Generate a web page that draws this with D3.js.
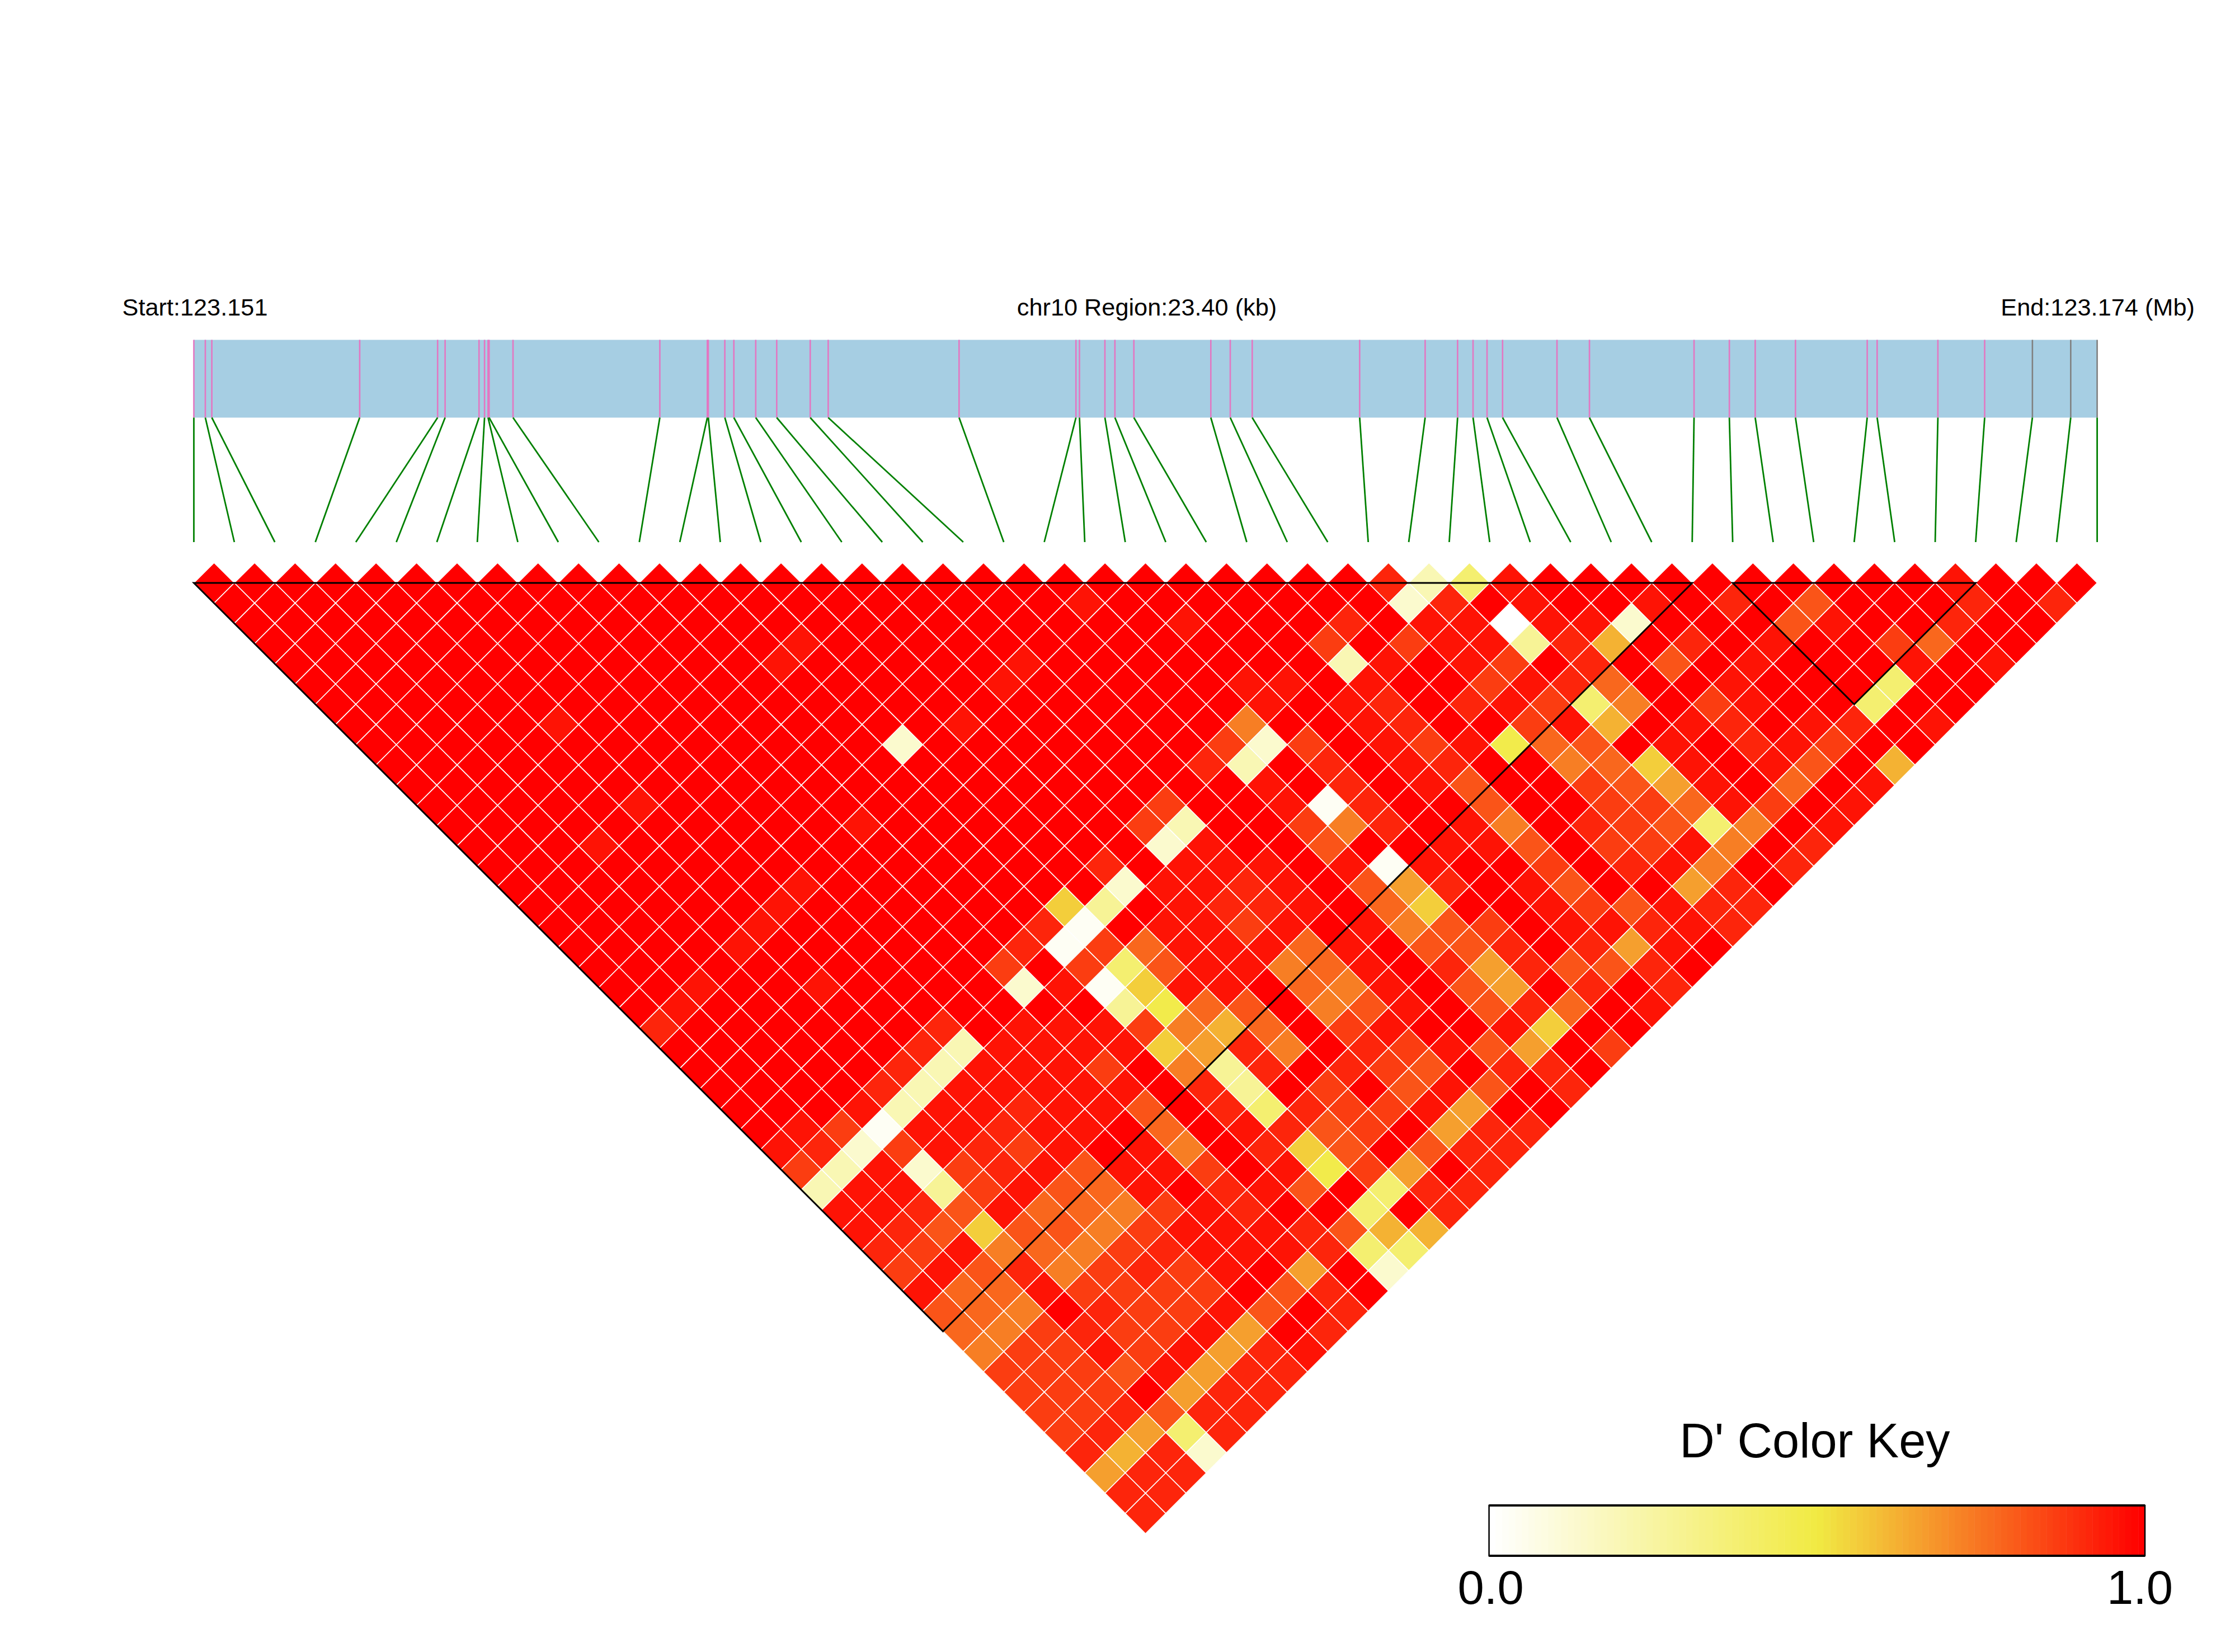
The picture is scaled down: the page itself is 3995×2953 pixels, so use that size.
<!DOCTYPE html>
<html><head><meta charset="utf-8">
<script src="https://cdn.jsdelivr.net/npm/d3@7"></script>
<style>html,body{margin:0;padding:0;background:#fff}svg{display:block}text{font-family:"Liberation Sans",Arial,sans-serif;fill:#000}</style>
</head><body><div id="chart"></div>
<script>
// SNP positions, kb from region start
const snpKb = [0,0.141,0.221,2.039,2.997,3.089,3.506,3.574,3.617,3.630,3.924,5.729,6.313,6.325,6.528,6.639,6.908,7.166,7.578,7.799,9.408,10.845,10.888,11.201,11.324,11.557,12.503,12.742,13.012,14.333,15.138,15.537,15.727,15.899,16.090,16.759,17.158,18.444,18.878,19.196,19.691,20.573,20.695,21.442,22.017,22.604,23.075,23.400];
const greySnps = [45,46,47];
// LD blocks as [first SNP, last SNP]
const blocks = [[0,37],[38,44]];
// D' level codes
const levelCodes = "abcdefghijklmnopq".split("");
const levelValues = [0,.03,.13,.2,.28,.38,.48,.56,.62,.66,.73,.78,.82,.87,.92,.96,1];
// D' readings: [SNP distance - 1, i+j+... column, codes on consecutive columns]; unlisted pairs read 1.0
const dPrimeRuns = [
[0,59,"odfpqqqqqqqqqqpqqq"],
[1,44,"pqqqqqqqcoqpqqpqoqmqqqoqo"],
[2,49,"pqqqoqppappcqqqmpqqoqq"],
[3,30,"p"],
[3,56,"nqnppeoiqoqpqqnlqq"],
[4,29,"p"],
[4,41,"p"],
[4,55,"qdpqpnqoqmqpqqqpqp"],
[5,40,"p"],
[5,52,"ppqpqqnpolqqpqqqfqq"],
[6,53,"pqpoqopnfkqnpqqfqq"],
[7,18,"p"],
[7,38,"p"],
[7,52,"kqqpoqqnpiqpoqpoqp"],
[8,35,"c"],
[8,51,"ncnqpnpglmqpqopnqq"],
[9,50,"odqoqpoqqklhpqpmqi"],
[10,53,"pqoqpmqqnmjpqlqp"],
[11,22,"p"],
[11,48,"nqqpboqqmqqnnlpnqp"],
[12,33,"p"],
[12,47,"ndqqnkoqpkqonmfkqp"],
[13,20,"p"],
[13,48,"cpqqmqqppmqnnpkqo"],
[14,45,"oqpppqpbpqqnqopkqo"],
[15,30,"p"],
[15,46,"cppopqmjoqpmqqjoq"],
[16,29,"p"],
[16,43,"heqpoopqlhqqpnmpoo"],
[17,28,"p"],
[17,42,"obqppnpqpkmnqppopo"],
[18,27,"p"],
[18,41,"obnlppplpqmmoqojpq"],
[19,40,"nqnfmppklpqojommoq"],
[20,25,"p"],
[20,31,"p"],
[20,41,"cpbhppqlkpqmjqoqo"],
[21,24,"p"],
[21,46,"eglmqkmpqmolqp"],
[22,23,"o"],
[22,37,"oqpppnkilqnpqqphqq"],
[23,36,"odpppphjokqonpmjqn"],
[24,35,"odpppnqkeoqonmqooq"],
[25,34,"odpppppqoeqnqmpmqo"],
[26,33,"pdppoppmqofonnpjqq"],
[27,30,"pnbppoppqlqpomnqjoo"],
[28,29,"pocnponpqpkqohmqmoo"],
[29,30,"ndpcnopmppnqpgnjqo"],
[30,31,"dppenpmlpqopmqfoo"],
[31,32,"ppompllknpoqqfqo"],
[32,33,"pomhmmknpppomii"],
[33,34,"onpklknopppoff"],
[34,35,"npmoknonpqjqc"],
[35,36,"pllpnnnnqmoq"],
[36,37,"mlkqonnpmqo"],
[37,38,"lknonnpjqo"],
[38,39,"knnpnpjop"],
[39,40,"nnnmpjoo"],
[40,41,"nnnqjoo"],
[41,42,"nnomoo"],
[42,43,"nojfo"],
[43,44,"oioc"],
[44,45,"joo"],
[45,46,"oo"],
[46,47,"o"]
];
const labelStart = "Start:123.151", labelMid = "chr10 Region:23.40 (kb)", labelEnd = "End:123.174 (Mb)";
const keyTitle = "D' Color Key", keyTicks = [0,1];

const W=3995,H=2953,n=snpKb.length;
const svg=d3.select("#chart").append("svg").attr("width",W).attr("height",H).attr("viewBox",`0 0 ${W} ${H}`);
svg.append("rect").attr("width",W).attr("height",H).attr("fill","#fff");

const left=346.5,right=3748.6,barTop=607.5,barBot=746.5,lineBot=969;
const xKb=d3.scaleLinear().domain([0,23.4]).range([left,right]);
const xU=d3.scaleLinear().domain([0,2*(n-1)]).range([left,right]);
const yD=d3.scaleLinear().domain([0,n-1]).range([1042,2741.5]);
const ux=xU(1)-xU(0), uy=yD(1)-yD(0);
const color=d3.scaleLinear().domain([0,.5,1]).range(["#ffffff","#F1EA43","#ff0000"]);

// header text
[[labelStart,left+2],[labelMid,2050],[labelEnd,right+1]].forEach(([t,x])=>
  svg.append("text").attr("x",x).attr("y",564).attr("text-anchor","middle").attr("font-size",43.3).text(t));

// gene bar
svg.append("rect").attr("x",left).attr("y",barTop).attr("width",right-left).attr("height",barBot-barTop).attr("fill","#A6CEE3");
svg.append("g").selectAll("line").data(snpKb).join("line")
 .attr("x1",d=>xKb(d)).attr("x2",d=>xKb(d)).attr("y1",barTop).attr("y2",barBot)
 .attr("stroke",(d,i)=>greySnps.includes(i)?"#808080":"#E377C2").attr("stroke-width",2.6);
svg.append("g").selectAll("line").data(snpKb).join("line")
 .attr("x1",d=>xKb(d)).attr("y1",barBot).attr("x2",(d,i)=>xU(2*i)).attr("y2",lineBot)
 .attr("stroke","#008000").attr("stroke-width",2.8);

// build pair table
const cells=[];
const byKey=new Map();
dPrimeRuns.forEach(([d,u,s])=>s.split("").forEach((c,k)=>byKey.set((d)+"_"+(u+2*k),levelValues[levelCodes.indexOf(c)])));
for(let d=0;d<n-1;d++)for(let i=0;i<n-1-d;i++){const u=2*i+d+1;cells.push({d,u,v:byKey.has(d+"_"+u)?byKey.get(d+"_"+u):1});}
svg.append("g").selectAll("path").data(cells).join("path")
 .attr("d",c=>{const x=xU(c.u),y=yD(c.d);return `M${x},${y-uy}L${x+ux},${y}L${x},${y+uy}L${x-ux},${y}Z`;})
 .attr("fill",c=>color(c.v)).attr("stroke","#fff").attr("stroke-width",1.6);

// blocks
svg.append("g").selectAll("path").data(blocks).join("path")
 .attr("d",([a,b])=>`M${xU(2*a)},${yD(0)}L${xU(2*b)},${yD(0)}L${xU(a+b)},${yD(b-a)}Z`)
 .attr("fill","none").attr("stroke","#000").attr("stroke-width",3).attr("stroke-linejoin","miter");

// colour key
const kx=d3.scaleLinear().domain([0,1]).range([2661.6,3834]);
const ky=2691,kh=90;
svg.append("g").selectAll("rect").data(d3.range(100)).join("rect")
 .attr("x",i=>kx(i/100)).attr("y",ky).attr("width",(kx(1)-kx(0))/100+.5).attr("height",kh)
 .attr("fill",i=>color(i/99));
svg.append("rect").attr("x",kx(0)).attr("y",ky).attr("width",kx(1)-kx(0)).attr("height",kh).attr("fill","none").attr("stroke","#000").attr("stroke-width",2.5);
[ky,ky+kh].forEach(y=>svg.append("line").attr("x1",kx(0)).attr("x2",kx(1)).attr("y1",y).attr("y2",y).attr("stroke","#000").attr("stroke-width",4));
svg.append("text").attr("x",3244).attr("y",2605).attr("text-anchor","middle").attr("font-size",86.6).text(keyTitle);
svg.append("g").selectAll("text").data(keyTicks).join("text")
 .attr("x",d=>kx(d)+(d?-9:3)).attr("y",2867).attr("text-anchor","middle").attr("font-size",85).text(d=>d.toFixed(1));
</script></body></html>
